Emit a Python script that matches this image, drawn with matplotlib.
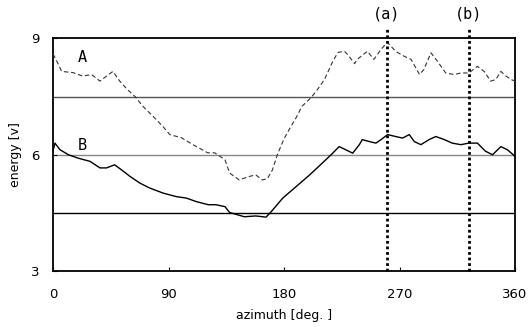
import matplotlib
matplotlib.use("Agg")
import matplotlib.pyplot as plt
from matplotlib.ticker import MultipleLocator, FixedLocator

# Data
az_A = [0, 2.3, 6.8, 15.6, 23, 30, 36.6, 41.7, 46.7, 52, 58, 64, 70, 78, 85.6, 91, 100, 109, 114,
        120.5, 126, 134, 137.6, 145, 153, 158, 163, 167, 171, 175, 180, 184, 189.5, 194, 201, 206,
        211.5, 214, 218, 222, 227, 229.5, 235, 237, 245, 250, 255.6, 260.5, 267, 273.7, 279,
        285.6, 289, 294.5, 299.6, 306, 312.6, 317.8, 324, 330.7, 336, 341, 345, 349, 353, 357, 360]
val_A = [8.6, 8.46, 8.15, 8.12, 8.03, 8.07, 7.9, 8.03, 8.15, 7.9, 7.68, 7.5, 7.25, 6.99, 6.73, 6.52,
         6.44, 6.26, 6.17, 6.05, 6.05, 5.87, 5.53, 5.35, 5.44, 5.48, 5.35, 5.38, 5.61, 6.02, 6.41,
         6.65, 6.96, 7.25, 7.47, 7.68, 7.94, 8.12, 8.41, 8.64, 8.67, 8.59, 8.35, 8.46, 8.67, 8.46,
         8.72, 8.9, 8.67, 8.54, 8.46, 8.07, 8.2, 8.63, 8.41, 8.11, 8.07, 8.11, 8.11, 8.28, 8.15,
         7.9, 7.94, 8.15, 8.03, 7.94, 7.9]

az_B = [0, 1.5, 5.4, 12, 19.7, 28.8, 36.6, 41.7, 48, 53.4, 60, 67.6, 75.4, 85.8, 96, 104, 111.7,
        121, 127, 134, 137.6, 149, 158, 166, 170, 179, 189.5, 200, 210, 216.7, 223, 228, 233.5,
        238.7, 241, 246.5, 251.6, 255.6, 260.7, 267, 272.4, 277.6, 281.5, 286.7, 293, 298.3, 305,
        311, 317.8, 324, 330.7, 337, 342.5, 349, 354, 358.6, 360]
val_B = [6.1, 6.3, 6.13, 6.0, 5.91, 5.83, 5.66, 5.66, 5.74, 5.61, 5.44, 5.27, 5.14, 5.01, 4.92, 4.88,
         4.79, 4.71, 4.71, 4.66, 4.51, 4.4, 4.42, 4.39, 4.53, 4.88, 5.18, 5.48, 5.79, 6.0, 6.21,
         6.13, 6.04, 6.26, 6.39, 6.34, 6.3, 6.39, 6.52, 6.47, 6.43, 6.52, 6.34, 6.26, 6.39, 6.47,
         6.39, 6.3, 6.26, 6.3, 6.3, 6.09, 6.0, 6.21, 6.13, 6.0, 5.95]

x_ticks = [0, 90, 180, 270, 360]
y_ticks = [3, 6, 9]
y_grid = [4.5, 6, 7.5]
markers_az = [260, 324]
markers_lbl = ["(a)", "(b)"]

fig = plt.figure(figsize=(5.28, 3.27), dpi=100)
ax = fig.add_axes([0.1004, 0.1713, 0.8750, 0.7110])

for g, c in zip(y_grid, ["black", "#888888", "#555555"]):
    ax.axhline(g, color=c, lw=1.0, zorder=1)

ax.plot(az_A, val_A, color="#333333", lw=0.8, ls=(0, (4, 2.5)), zorder=3)
ax.plot(az_B, val_B, color="black", lw=1.0, zorder=3)

for xa, lbl in zip(markers_az, markers_lbl):
    ax.plot([xa, xa], [3, 9.3], color="black", lw=2.0, ls=(0, (1, 1)), clip_on=False, zorder=4)
    ax.text(xa, 9.45, lbl, ha="center", va="bottom", fontsize=11,
            family="DejaVu Sans Mono", fontstretch="condensed")

ax.text(23, 8.5, "A", fontsize=11, ha="center", va="center", family="DejaVu Sans Mono")
ax.text(23, 6.25, "B", fontsize=11, ha="center", va="center", family="DejaVu Sans Mono")

ax.set_xlim(0, 360)
ax.set_ylim(3, 9)
ax.xaxis.set_major_locator(FixedLocator(x_ticks))
ax.yaxis.set_major_locator(FixedLocator(y_ticks))
ax.tick_params(direction="in", length=3, width=0.8, labelsize=9.5)
ax.tick_params(axis="x", pad=12)
ax.tick_params(axis="y", pad=10)
for s in ax.spines.values():
    s.set_linewidth(1.3)
    s.set_color("black")

ax.set_xlabel("azimuth [deg. ]", fontsize=9, labelpad=6)
ax.set_ylabel("energy [v]", fontsize=9, labelpad=6)

fig.savefig("out.png", dpi=100)
